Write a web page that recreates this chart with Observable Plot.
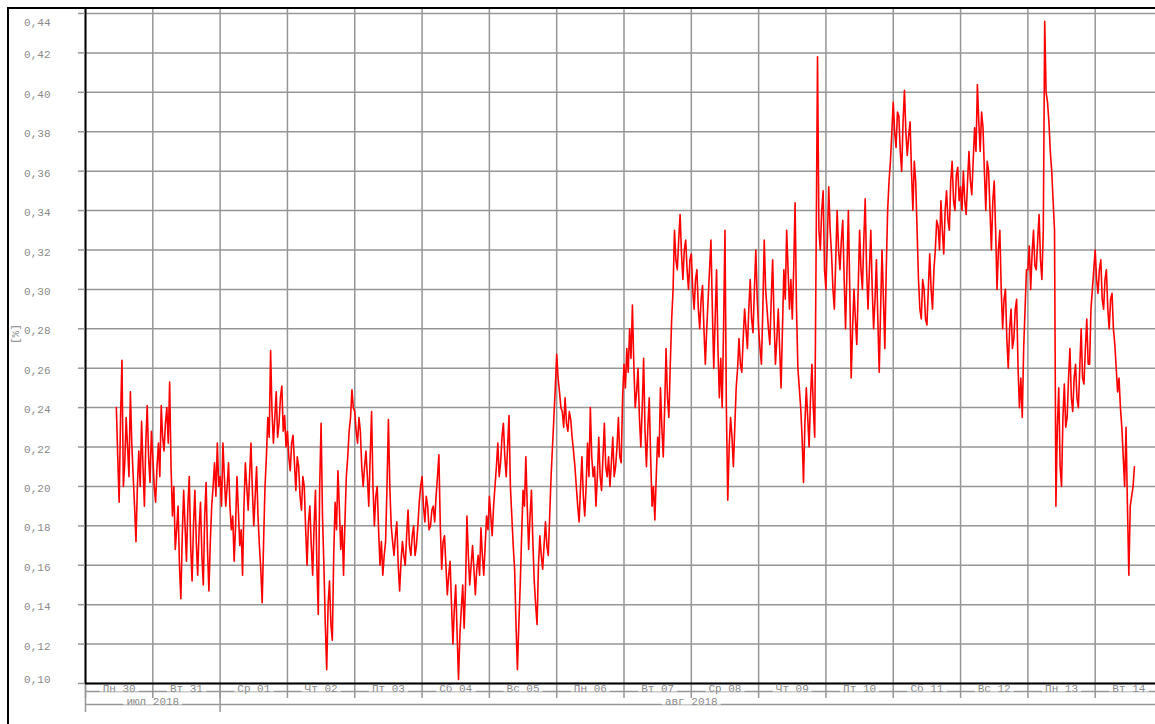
<!DOCTYPE html>
<html>
<head>
<meta charset="utf-8">
<script src="https://cdn.jsdelivr.net/npm/d3@7"></script>
<script src="https://cdn.jsdelivr.net/npm/@observablehq/plot@0.6"></script>
<style>
  html, body { margin: 0; padding: 0; background: #fff; overflow: hidden; }
  #wrap { position: relative; width: 1155px; height: 724px; overflow: hidden; background: #fff; }
  #wrap svg { position: absolute; left: 0; top: 0; max-width: none !important; }
  #frame { position: absolute; left: 7px; top: 7px; width: 2000px; height: 2000px;
           border-left: 2px solid #000; border-top: 2px solid #000; pointer-events: none; }
</style>
</head>
<body>
<div id="wrap"><div id="frame"></div></div>
<script>
// ---- tick labels ----
const dayLabels = ["Пн 30","Вт 31","Ср 01","Чт 02","Пт 03","Сб 04","Вс 05","Пн 06",
                   "Вт 07","Ср 08","Чт 09","Пт 10","Сб 11","Вс 12","Пн 13","Вт 14"];
const monthLabels = ["июл 2018", "авг 2018"];
const yTickValues = [0.10,0.12,0.14,0.16,0.18,0.20,0.22,0.24,0.26,0.28,0.30,0.32,0.34,0.36,0.38,0.40,0.42,0.44];
const yLabel = "[%]";

// ---- half-hourly readings, one array per day (first reading Jul 30 at 11:00) ----
const firstHour = 11;
const stepMinutes = 30;
const jul30 = [0.24,0.215,0.192,0.235,0.264,0.2,0.212,0.235,0.22,0.205,0.248,0.222,0.205,0.19,0.172,0.2,0.218,0.2,0.233,0.21,0.19,0.222,0.241,0.215,0.202,0.228];
const jul31 = [0.215,0.2,0.192,0.21,0.222,0.205,0.241,0.225,0.218,0.232,0.24,0.222,0.253,0.21,0.185,0.2,0.168,0.178,0.19,0.16,0.143,0.175,0.198,0.18,0.162,0.19,0.205,0.17,0.152,0.18,0.198,0.172,0.155,0.178,0.192,0.165,0.15,0.185,0.202,0.168,0.147,0.172,0.19,0.2,0.212,0.195,0.222,0.2];
const aug01 = [0.205,0.19,0.222,0.205,0.19,0.2,0.212,0.19,0.178,0.185,0.162,0.18,0.205,0.188,0.17,0.178,0.155,0.19,0.212,0.2,0.188,0.205,0.222,0.198,0.18,0.195,0.21,0.185,0.17,0.158,0.141,0.172,0.2,0.215,0.235,0.225,0.269,0.238,0.222,0.235,0.248,0.225,0.232,0.245,0.251,0.228,0.236,0.22];
const aug02 = [0.228,0.215,0.208,0.222,0.226,0.212,0.198,0.215,0.21,0.195,0.188,0.205,0.2,0.178,0.16,0.182,0.19,0.17,0.155,0.18,0.198,0.16,0.135,0.2,0.232,0.185,0.16,0.13,0.107,0.14,0.152,0.13,0.122,0.165,0.192,0.178,0.208,0.19,0.168,0.18,0.155,0.182,0.205,0.215,0.228,0.235,0.249,0.24];
const aug03 = [0.238,0.228,0.222,0.235,0.228,0.21,0.2,0.21,0.218,0.205,0.19,0.215,0.238,0.2,0.18,0.195,0.2,0.178,0.16,0.172,0.155,0.165,0.172,0.2,0.234,0.2,0.18,0.172,0.165,0.175,0.182,0.16,0.147,0.162,0.172,0.165,0.16,0.175,0.188,0.17,0.165,0.175,0.18,0.165,0.17,0.18,0.192,0.2];
const aug04 = [0.205,0.19,0.182,0.195,0.19,0.178,0.18,0.188,0.19,0.182,0.195,0.205,0.216,0.18,0.158,0.172,0.175,0.16,0.145,0.155,0.162,0.14,0.12,0.138,0.15,0.125,0.102,0.125,0.138,0.15,0.128,0.15,0.185,0.165,0.15,0.16,0.17,0.158,0.145,0.158,0.165,0.155,0.179,0.165,0.155,0.17,0.185,0.178];
const aug05 = [0.195,0.185,0.175,0.19,0.2,0.21,0.222,0.205,0.212,0.225,0.232,0.215,0.205,0.22,0.236,0.2,0.185,0.17,0.158,0.13,0.107,0.13,0.15,0.175,0.198,0.19,0.215,0.19,0.168,0.185,0.198,0.172,0.152,0.14,0.13,0.16,0.175,0.165,0.158,0.17,0.182,0.17,0.165,0.185,0.205,0.22,0.235,0.25];
const aug06 = [0.267,0.255,0.248,0.24,0.238,0.23,0.245,0.232,0.228,0.238,0.234,0.225,0.218,0.21,0.2,0.19,0.182,0.2,0.215,0.195,0.185,0.2,0.222,0.205,0.24,0.215,0.205,0.21,0.19,0.205,0.225,0.205,0.198,0.215,0.232,0.21,0.205,0.215,0.2,0.212,0.225,0.205,0.21,0.22,0.235,0.215,0.212,0.245];
const aug07 = [0.262,0.25,0.27,0.258,0.28,0.265,0.292,0.262,0.24,0.248,0.26,0.235,0.22,0.24,0.265,0.228,0.21,0.23,0.245,0.215,0.19,0.2,0.183,0.205,0.225,0.215,0.25,0.23,0.215,0.24,0.27,0.245,0.235,0.262,0.285,0.3,0.33,0.315,0.31,0.325,0.338,0.318,0.305,0.32,0.325,0.31,0.3,0.315];
const aug08 = [0.318,0.3,0.29,0.305,0.31,0.29,0.28,0.295,0.302,0.28,0.262,0.28,0.295,0.31,0.325,0.29,0.26,0.285,0.31,0.27,0.245,0.265,0.24,0.28,0.33,0.24,0.193,0.22,0.235,0.225,0.21,0.23,0.25,0.26,0.275,0.262,0.258,0.275,0.29,0.28,0.27,0.29,0.305,0.285,0.278,0.3,0.32,0.295];
const aug09 = [0.28,0.27,0.262,0.29,0.325,0.3,0.29,0.28,0.272,0.295,0.315,0.285,0.262,0.275,0.29,0.27,0.25,0.28,0.31,0.295,0.33,0.31,0.29,0.305,0.285,0.31,0.344,0.29,0.26,0.25,0.24,0.225,0.202,0.232,0.25,0.235,0.22,0.245,0.262,0.24,0.225,0.32,0.418,0.33,0.32,0.34,0.35,0.31];
const aug10 = [0.3,0.325,0.352,0.33,0.318,0.3,0.29,0.315,0.34,0.32,0.31,0.325,0.335,0.305,0.28,0.31,0.34,0.3,0.255,0.28,0.3,0.285,0.272,0.3,0.33,0.31,0.3,0.325,0.346,0.31,0.29,0.31,0.33,0.3,0.28,0.295,0.315,0.285,0.258,0.29,0.32,0.295,0.27,0.31,0.34,0.355,0.365,0.38];
const aug11 = [0.395,0.38,0.372,0.39,0.388,0.37,0.36,0.385,0.401,0.38,0.368,0.378,0.385,0.36,0.34,0.365,0.355,0.33,0.305,0.29,0.285,0.305,0.3,0.285,0.282,0.3,0.318,0.3,0.29,0.31,0.32,0.335,0.332,0.32,0.345,0.33,0.318,0.34,0.35,0.335,0.33,0.355,0.365,0.345,0.34,0.358,0.362,0.345];
const aug12 = [0.352,0.34,0.36,0.345,0.338,0.355,0.37,0.355,0.348,0.365,0.382,0.37,0.404,0.385,0.37,0.39,0.382,0.36,0.34,0.365,0.36,0.34,0.32,0.345,0.355,0.33,0.3,0.32,0.33,0.3,0.28,0.295,0.3,0.275,0.26,0.28,0.29,0.27,0.275,0.29,0.295,0.26,0.24,0.255,0.235,0.27,0.29,0.31];
const aug13 = [0.31,0.322,0.3,0.318,0.33,0.312,0.31,0.325,0.338,0.315,0.305,0.33,0.436,0.4,0.395,0.385,0.37,0.36,0.345,0.33,0.19,0.23,0.25,0.21,0.2,0.235,0.252,0.23,0.235,0.255,0.27,0.245,0.238,0.255,0.262,0.245,0.24,0.26,0.28,0.255,0.252,0.27,0.285,0.262,0.262,0.29,0.3,0.31];
const aug14 = [0.32,0.305,0.298,0.31,0.315,0.295,0.29,0.305,0.31,0.29,0.28,0.295,0.298,0.28,0.272,0.26,0.248,0.255,0.24,0.23,0.215,0.2,0.23,0.19,0.155,0.19,0.195,0.2,0.21];

const HOUR = 3600e3, DAY = 24 * HOUR, STEP = stepMinutes * 60e3;
const t0 = Date.UTC(2018, 6, 30);
const days = [jul30, jul31, aug01, aug02, aug03, aug04, aug05, aug06, aug07, aug08, aug09, aug10, aug11, aug12, aug13, aug14];
const series = [];
let t = t0 + firstHour * HOUR;
for (const day of days) for (const v of day) { series.push({date: new Date(t), value: v}); t += STEP; }

const dayTicks = dayLabels.map((_, i) => new Date(t0 + i * DAY));
const dayMids = dayLabels.map((_, i) => new Date(t0 + i * DAY + DAY / 2));
const xEnd = new Date(t0 + dayLabels.length * DAY);
const monthStarts = [new Date(t0), new Date(Date.UTC(2018, 7, 1))];
const monthMids = [new Date(Date.UTC(2018, 6, 31)), new Date(Date.UTC(2018, 7, 8))];
const rowLine = [{y: yTickValues[0], x1: new Date(t0), x2: xEnd}];

const grid = "#969696", txt = "#8a8a8a";
const fmt = d => d.toFixed(2).replace(".", ",");
const inner = yTickValues.slice(1, -1);

const chart = Plot.plot({
  width: 1175, height: 724,
  marginTop: 8, marginBottom: 41, marginLeft: 85, marginRight: 13,
  x: {type: "utc", domain: [new Date(t0), xEnd]},
  y: {domain: [0.10, 0.44], range: [683, 13]},
  style: {background: "transparent", fontFamily: "'Liberation Mono', 'DejaVu Sans Mono', monospace", fontSize: "11px"},
  marks: [
    Plot.gridY(yTickValues, {stroke: grid, strokeOpacity: 1, strokeWidth: 1.5}),
    Plot.gridX(dayTicks, {stroke: grid, strokeOpacity: 1, strokeWidth: 1.5}),
    Plot.line(series, {x: "date", y: "value", stroke: "#ff0000", strokeWidth: 1.6}),
    // x ticks and bracket rows
    Plot.axisX(dayTicks, {tickSize: 15, stroke: grid, strokeWidth: 1.5, tickFormat: () => "", label: null}),
    Plot.axisX(monthStarts, {tickSize: 29, stroke: grid, strokeWidth: 1.5, tickFormat: () => "", label: null}),
    Plot.ruleY(rowLine, {y: "y", x1: "x1", x2: "x2", dy: 8, stroke: grid, strokeWidth: 1.5}),
    Plot.ruleY(rowLine, {y: "y", x1: "x1", x2: "x2", dy: 21, stroke: grid, strokeWidth: 1.5}),
    Plot.text(dayLabels, {x: (d, i) => dayMids[i], frameAnchor: "bottom", dy: 8, fill: txt}),
    Plot.text(monthLabels, {x: (d, i) => monthMids[i], frameAnchor: "bottom", dy: 21, fill: txt}),
    // axis lines
    Plot.ruleX([new Date(t0)], {stroke: "#000", strokeWidth: 2}),
    Plot.ruleY([yTickValues[0]], {stroke: "#000", strokeWidth: 2}),
    // y ticks and labels
    Plot.axisY(yTickValues, {tickSize: 7, stroke: grid, strokeWidth: 1.5, strokeOpacity: 1, tickFormat: () => "", label: null}),
    Plot.axisY(inner, {tickSize: 0, tickPadding: 35, tickFormat: fmt, fill: txt, dy: 2, label: null}),
    Plot.axisY([yTickValues[yTickValues.length - 1]], {tickSize: 0, tickPadding: 35, tickFormat: fmt, fill: txt, dy: 9, label: null}),
    Plot.axisY([yTickValues[0]], {tickSize: 0, tickPadding: 35, tickFormat: fmt, fill: txt, dy: -4, label: null}),
    Plot.text([yLabel], {frameAnchor: "left", dx: -70, dy: -2, rotate: -90, fill: txt})
  ]
});
document.getElementById("wrap").insertBefore(chart, document.getElementById("frame"));

// white backing behind the x labels so the bracket lines break around them
const labelSet = new Set([...dayLabels, ...monthLabels]);
d3.select(chart).selectAll("text").each(function () {
  if (!labelSet.has(this.textContent)) return;
  const b = this.getBBox();
  const cy = b.y + b.height / 2;
  const r = document.createElementNS("http://www.w3.org/2000/svg", "rect");
  r.setAttribute("x", b.x - 3);
  r.setAttribute("y", cy - 3);
  r.setAttribute("width", b.width + 6);
  r.setAttribute("height", 6);
  r.setAttribute("fill", "white");
  r.setAttribute("stroke", "none");
  const tr = this.getAttribute("transform");
  if (tr) r.setAttribute("transform", tr);
  this.parentNode.insertBefore(r, this);
});
</script>
</body>
</html>
